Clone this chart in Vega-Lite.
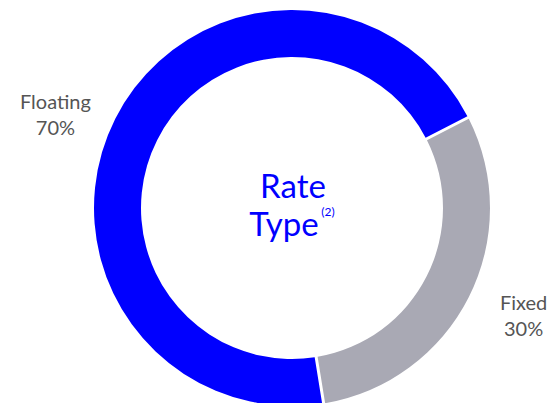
{
  "$schema": "https://vega.github.io/schema/vega-lite/v6.json",
  "width": 553,
  "height": 403,
  "autosize": {"type": "fit", "contains": "padding"},
  "padding": {"left": 31, "right": 0, "top": 13, "bottom": 0},
  "background": "white",
  "view": {"stroke": null},
  "config": {"font": "Lato"},
  "data": {
    "values": [
      {"category": "Floating", "value": 70, "label": "Floating\n70%"},
      {"category": "Fixed", "value": 30, "label": "Fixed\n30%"}
    ]
  },
  "encoding": {
    "theta": {"field": "value", "type": "quantitative", "stack": true, "scale": {"range": [2.981, 9.2642]}},
    "order": {"field": "value", "sort": "descending"}
  },
  "layer": [
    {
      "mark": {"type": "arc", "outerRadius": 198, "innerRadius": 151, "padAngle": 0.012},
      "encoding": {
        "color": {"field": "category", "type": "nominal", "scale": {"domain": ["Floating", "Fixed"], "range": ["#0000ff", "#a9a9b4"]}, "legend": null}
      }
    },
    {
      "mark": {"type": "text", "radius": 255, "fontSize": 20, "color": "#555555", "align": "center", "baseline": "middle", "lineBreak": "\n", "lineHeight": 26, "dx": -9, "dy": 10},
      "encoding": {"text": {"condition": {"test": "datum.category === 'Floating'", "field": "label"}, "value": ""}}
    },
    {
      "mark": {"type": "text", "radius": 255, "fontSize": 20, "color": "#555555", "align": "center", "baseline": "middle", "lineBreak": "\n", "lineHeight": 26, "dx": 4, "dy": -19},
      "encoding": {"text": {"condition": {"test": "datum.category === 'Fixed'", "field": "label"}, "value": ""}}
    },
    {
      "data": {"values": [{"line1": "Rate", "line2": "Type", "note": "(2)"}]},
      "layer": [
        {
          "mark": {"type": "text", "fontSize": 33, "color": "#0000ff", "align": "center", "baseline": "middle", "dx": 1, "dy": -20},
          "encoding": {"text": {"field": "line1"}, "theta": null, "order": null}
        },
        {
          "mark": {"type": "text", "fontSize": 33, "color": "#0000ff", "align": "center", "baseline": "middle", "dx": -8, "dy": 18},
          "encoding": {"text": {"field": "line2"}, "theta": null, "order": null}
        },
        {
          "mark": {"type": "text", "fontSize": 12, "color": "#0000ff", "align": "center", "baseline": "middle", "dx": 36, "dy": 4},
          "encoding": {"text": {"field": "note"}, "theta": null, "order": null}
        }
      ]
    }
  ]
}
